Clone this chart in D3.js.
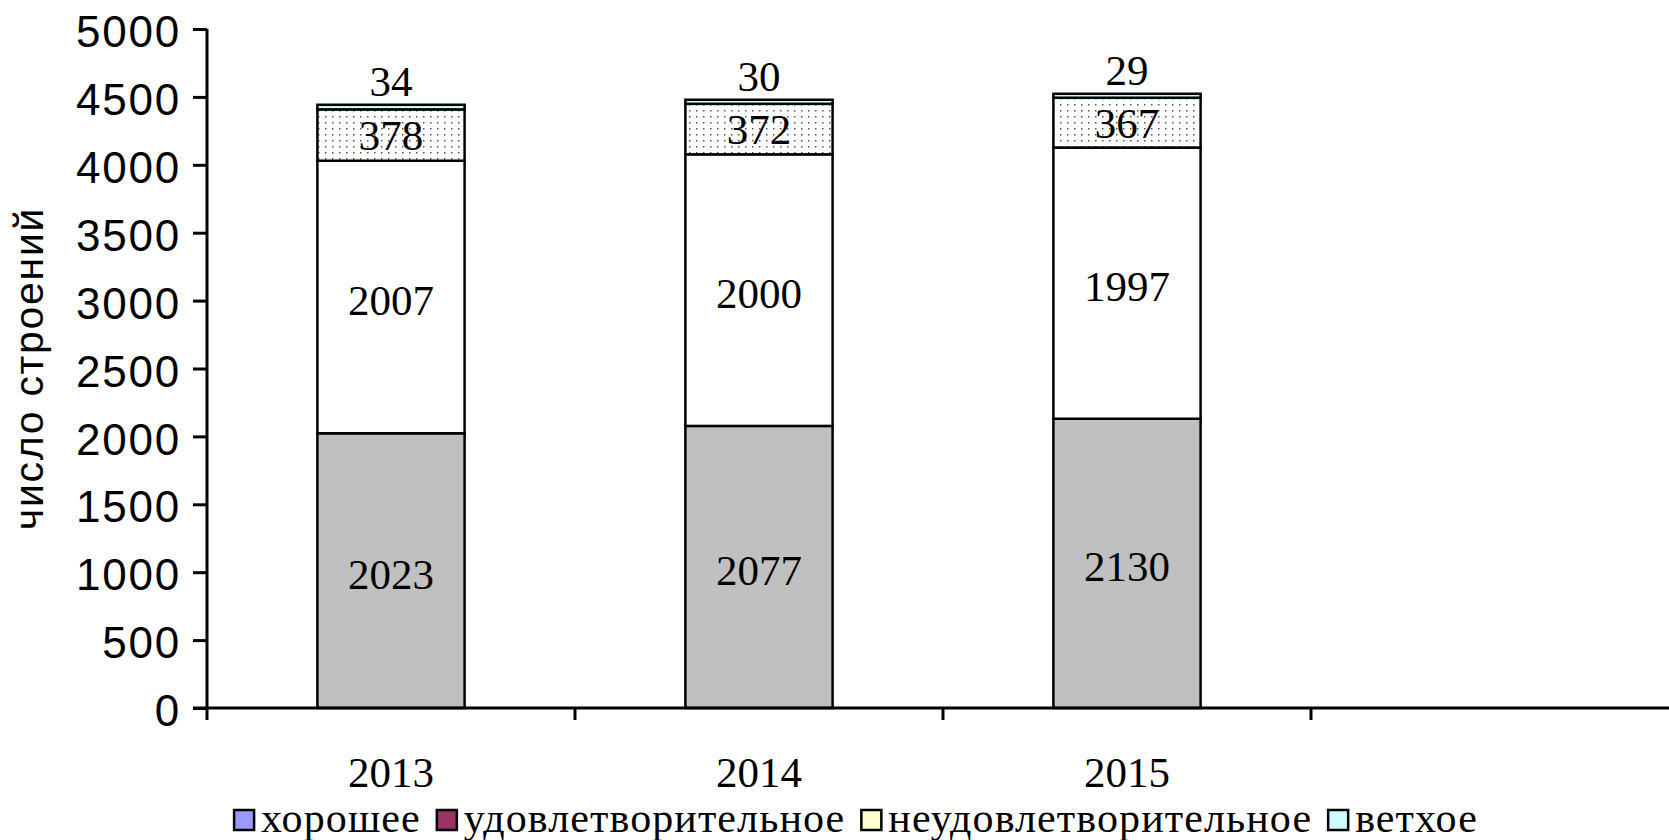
<!DOCTYPE html>
<html>
<head>
<meta charset="utf-8">
<script src="https://cdn.jsdelivr.net/npm/d3@7"></script>
<style>
  body { margin: 0; background: #fff; overflow: hidden; }
</style>
</head>
<body>
<div id="container"></div>
<script>
/* CONSTANTS AND GLOBALS */
const width = 1669,
  height = 840,
  margin = { top: 29, bottom: 132, left: 207, right: -10 };

const serif = "'Liberation Serif', 'Times New Roman', serif",
  sans = "'Liberation Sans', Arial, sans-serif";

/* DATA */
const years = ["2013", "2014", "2015", ""];
const seriesNames = ["хорошее", "удовлетворительное", "неудовлетворительное", "ветхое"];
const good = [2023, 2077, 2130];
const satisfactory = [2007, 2000, 1997];
const unsatisfactory = [378, 372, 367];
const dilapidated = [34, 30, 29];
const yTicks = [0, 500, 1000, 1500, 2000, 2500, 3000, 3500, 4000, 4500, 5000];

const rows = years.slice(0, 3).map((y, i) => ({
  year: y,
  "хорошее": good[i],
  "удовлетворительное": satisfactory[i],
  "неудовлетворительное": unsatisfactory[i],
  "ветхое": dilapidated[i]
}));

const stacked = d3.stack().keys(seriesNames)(rows);

/* SCALES */
// 4 equal categories, the last one empty
const xScale = d3.scaleBand()
  .domain(years)
  .range([margin.left, margin.left + 4 * 368])
  .paddingInner(0.6)
  .paddingOuter(0.3)

const yScale = d3.scaleLinear()
  .domain([0, 5000])
  .range([height - margin.bottom, margin.top])

// fills used in the bars vs. the (mismatched) legend swatches
const barFill = d3.scaleOrdinal()
  .domain(seriesNames)
  .range(["#c0c0c0", "#ffffff", "url(#dots)", "#ccffff"])
const legendFill = d3.scaleOrdinal()
  .domain(seriesNames)
  .range(["#9999ff", "#993366", "#ffffcc", "#ccffff"])

/* HTML ELEMENTS */
const svg = d3.select("#container")
  .append("svg")
  .attr("width", width)
  .attr("height", height)
  .style("background-color", "#fff")

// dotted fill
const pat = svg.append("defs").append("pattern")
  .attr("id", "dots")
  .attr("patternUnits", "userSpaceOnUse")
  .attr("width", 7)
  .attr("height", 6)
pat.append("rect").attr("width", 7).attr("height", 6).attr("fill", "#fff")
pat.append("rect").attr("x", 3).attr("y", 2).attr("width", 1.5).attr("height", 1.5).attr("fill", "#555")

// bars
const layers = svg.selectAll(".layer")
  .data(stacked)
  .join("g")
  .attr("class", "layer")
  .attr("fill", d => barFill(d.key))

layers.selectAll("rect")
  .data(d => d)
  .join("rect")
  .attr("x", d => xScale(d.data.year))
  .attr("width", xScale.bandwidth())
  .attr("y", d => yScale(d[1]))
  .attr("height", d => yScale(d[0]) - yScale(d[1]))
  .attr("stroke", "#000")
  .attr("stroke-width", 2.5)

// value labels (last series sits above the bar)
layers.each(function (layer, li) {
  d3.select(this).selectAll("text")
    .data(layer)
    .join("text")
    .attr("x", d => xScale(d.data.year) + xScale.bandwidth() / 2)
    .attr("y", d => li === 3 ? yScale(d[1]) - 9 : (yScale(d[0]) + yScale(d[1])) / 2 + (li === 2 ? 15 : 18))
    .attr("text-anchor", "middle")
    .attr("fill", "#000")
    .style("font-family", serif)
    .style("font-size", "43px")
    .text(d => d[1] - d[0])
})

// y axis
const yAxis = d3.axisLeft(yScale)
  .tickValues(yTicks)
  .tickSize(14)
  .tickPadding(12)
  .tickFormat(d3.format("d"))

svg.append("g")
  .attr("transform", `translate(${margin.left},0)`)
  .call(yAxis)
  .call(g => g.select(".domain").attr("stroke-width", 3).attr("d", `M0,${yScale(5000)}V${yScale(0)}`))
  .call(g => g.selectAll(".tick line").attr("stroke-width", 3))
  .call(g => g.selectAll(".tick text")
    .attr("dy", "0.4em")
    .style("font-family", sans)
    .style("font-size", "44px")
    .style("letter-spacing", "1.8px")
    .attr("fill", "#000"))

// x axis
const xAxis = d3.axisBottom(xScale).tickSize(0).tickFormat(d => d)

const xg = svg.append("g")
  .attr("transform", `translate(0,${yScale(0)})`)
  .call(xAxis)
xg.select(".domain").attr("stroke-width", 3).attr("d", `M${margin.left - 14},0H${width}`)
xg.selectAll(".tick text")
  .attr("y", 79)
  .attr("dy", 0)
  .style("font-family", serif)
  .style("font-size", "43px")
  .attr("fill", "#000")

// tick marks between categories
const step = xScale.step()
xg.selectAll(".tickmark")
  .data(d3.range(4))
  .join("line")
  .attr("class", "tickmark")
  .attr("x1", i => margin.left + i * step)
  .attr("x2", i => margin.left + i * step)
  .attr("y1", 0)
  .attr("y2", 12)
  .attr("stroke", "#000")
  .attr("stroke-width", 3)

// y axis title
svg.append("text")
  .attr("transform", `translate(43,${(yScale(0) + yScale(5000)) / 2}) rotate(-90)`)
  .attr("text-anchor", "middle")
  .style("font-family", sans)
  .style("font-size", "41px")
  .style("letter-spacing", "1.7px")
  .attr("fill", "#000")
  .text("число строений")

// legend
const legend = svg.append("g")
let lx = 0
const items = legend.selectAll(".item")
  .data(seriesNames)
  .join("g")
  .attr("class", "item")

items.append("rect")
  .attr("y", -22)
  .attr("width", 20)
  .attr("height", 20)
  .attr("fill", d => legendFill(d))
  .attr("stroke", "#000")
  .attr("stroke-width", 2.5)

items.append("text")
  .attr("x", 27)
  .attr("y", 0)
  .style("font-family", serif)
  .style("font-size", "42px")
  .style("letter-spacing", "1.1px")
  .attr("fill", "#000")
  .text(d => d)

items.each(function () {
  const g = d3.select(this)
  g.attr("transform", `translate(${lx},0)`)
  lx += 27 + g.select("text").node().getComputedTextLength() + 16
})
legend.attr("transform", `translate(${856 - (lx - 16) / 2},832)`)
</script>
</body>
</html>
